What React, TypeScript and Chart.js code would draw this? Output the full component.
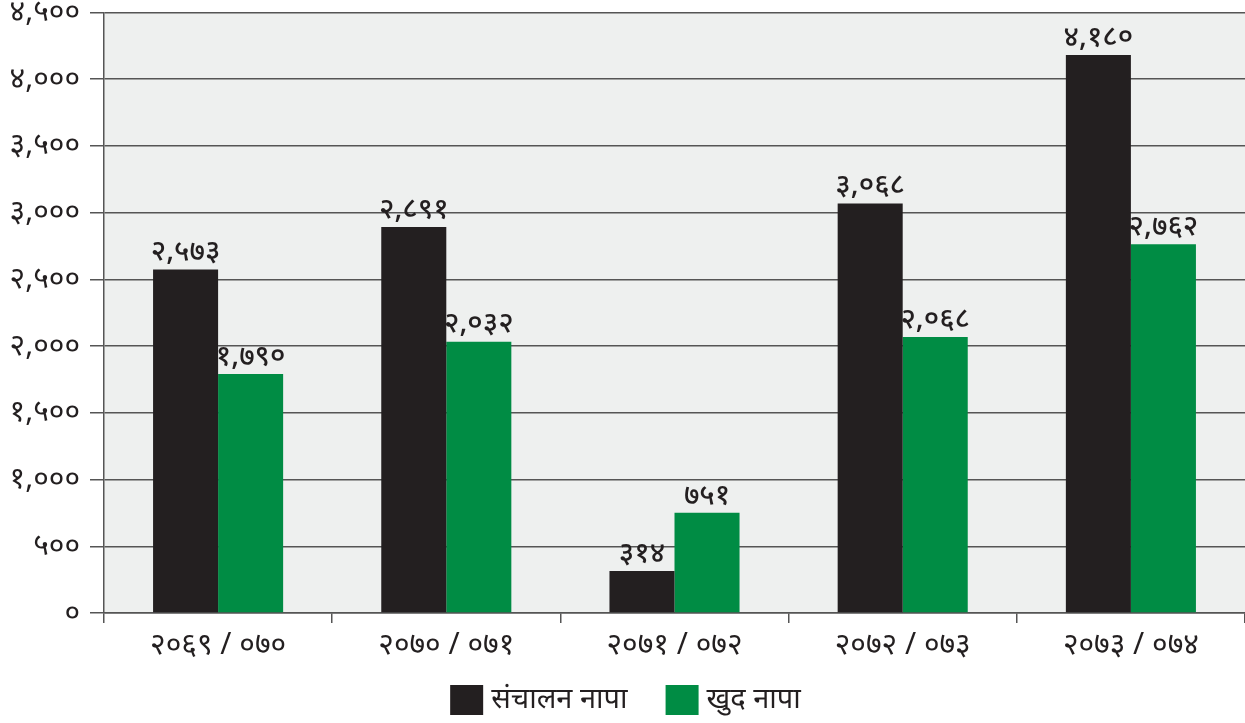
import React, { useEffect, useRef } from "react";
import { Chart, registerables } from "chart.js";

Chart.register(...registerables);

const categories = ["२०६९ / ०७०", "२०७० / ०७१", "२०७१ / ०७२", "२०७२ / ०७३", "२०७३ / ०७४"];
const seriesNames = ["संचालन नापा", "खुद नापा"];
const seriesColors = ["#231f20", "#008c44"];
const operatingProfit = [2573, 2891, 314, 3068, 4180];
const netProfit = [1790, 2032, 751, 2068, 2762];
const yMin = 0;
const yMax = 4500;
const yStep = 500;

const DIGITS = ["०", "१", "२", "३", "४", "५", "६", "७", "८", "९"];
function toNepali(n: number): string {
  const s = Math.round(n).toString().replace(/\B(?=(\d{3})+(?!\d))/g, ",");
  return s.replace(/\d/g, (d) => DIGITS[Number(d)]);
}

const FONT = "'Noto Sans', 'Noto Sans Devanagari', 'Lohit Devanagari', 'FreeSans', sans-serif";
const GRID = "#555555";
const TEXT = "#231f20";

const bgPlugin = {
  id: "plotBg",
  beforeDraw(chart: any) {
    const { ctx, chartArea } = chart;
    if (!chartArea) return;
    ctx.save();
    ctx.fillStyle = "#eef0ef";
    ctx.fillRect(chartArea.left, chartArea.top, chartArea.right - chartArea.left, chartArea.bottom - chartArea.top);
    ctx.restore();
  },
};

const valueLabelPlugin = {
  id: "valueLabels",
  afterDatasetsDraw(chart: any) {
    const { ctx } = chart;
    ctx.save();
    ctx.fillStyle = TEXT;
    ctx.font = `500 29px ${FONT}`;
    ctx.textAlign = "center";
    ctx.textBaseline = "bottom";
    chart.data.datasets.forEach((ds: any, i: number) => {
      const meta = chart.getDatasetMeta(i);
      meta.data.forEach((bar: any, j: number) => {
        ctx.fillText(toNepali(ds.data[j]), bar.x, bar.y - 3);
      });
    });
    ctx.restore();
  },
};

const legendPlugin = {
  id: "customLegend",
  afterDraw(chart: any) {
    const { ctx, width, height } = chart;
    ctx.save();
    ctx.font = `400 29px ${FONT}`;
    const box = 33;
    const boxH = 30;
    const gapText = 8;
    const gapItem = 38;
    const widths = chart.data.datasets.map((ds: any) => box + gapText + ctx.measureText(ds.label).width);
    const total = widths.reduce((a: number, b: number) => a + b, 0) + gapItem * (widths.length - 1);
    let x = (width - total) / 2 + 3;
    const cy = height - 23;
    chart.data.datasets.forEach((ds: any, i: number) => {
      ctx.fillStyle = ds.backgroundColor;
      ctx.fillRect(x, cy - boxH / 2, box, boxH);
      ctx.fillStyle = TEXT;
      ctx.textAlign = "left";
      ctx.textBaseline = "middle";
      ctx.fillText(ds.label, x + box + gapText, cy);
      x += widths[i] + gapItem;
    });
    ctx.restore();
  },
};

export default function App() {
  const ref = useRef<HTMLCanvasElement | null>(null);
  useEffect(() => {
    document.body.style.margin = "0";
    if (!ref.current) return;
    const chart = new Chart(ref.current, {
      type: "bar",
      data: {
        labels: categories,
        datasets: [
          {
            label: seriesNames[0],
            data: operatingProfit,
            backgroundColor: seriesColors[0],
            barPercentage: 1,
            categoryPercentage: 0.57,
          },
          {
            label: seriesNames[1],
            data: netProfit,
            backgroundColor: seriesColors[1],
            barPercentage: 1,
            categoryPercentage: 0.57,
          },
        ],
      },
      options: {
        animation: false,
        responsive: false,
        devicePixelRatio: 1,
        layout: { padding: { top: 0, left: 0, right: 0, bottom: 50 } },
        plugins: {
          legend: { display: false },
          tooltip: { enabled: false },
        },
        scales: {
          x: {
            offset: true,
            grid: {
              offset: true,
              drawOnChartArea: false,
              drawTicks: true,
              tickLength: 10,
              color: GRID,
              lineWidth: 1.5,
            },
            border: { display: true, color: GRID, width: 1.5 },
            ticks: {
              color: TEXT,
              padding: 4,
              font: { family: FONT, size: 30 },
            },
            afterFit(scale: any) {
              scale.height = 60;
            },
          },
          y: {
            min: yMin,
            max: yMax,
            ticks: {
              stepSize: yStep,
              color: TEXT,
              padding: 10,
              font: { family: FONT, size: 30, lineHeight: 0.15 },
              callback: (v: any) => toNepali(Number(v)),
            },
            grid: {
              color: GRID,
              lineWidth: 1.5,
              drawTicks: true,
              tickLength: 14,
            },
            border: { display: true, color: GRID, width: 1.5 },
            afterFit(scale: any) {
              scale.width = 104;
            },
          },
        },
      },
      plugins: [bgPlugin, valueLabelPlugin, legendPlugin],
    });
    return () => chart.destroy();
  }, []);
  return (
    <div style={{ position: "absolute", left: 0, top: 0, width: 1245, height: 723, background: "#fff" }}>
      <canvas ref={ref} width={1245} height={723} style={{ display: "block" }} />
    </div>
  );
}
